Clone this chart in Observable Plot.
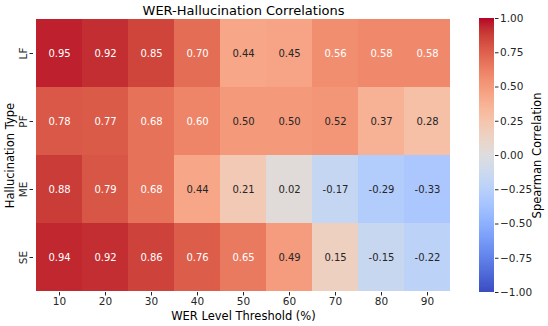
<!DOCTYPE html>
<html>
<head>
<meta charset="utf-8">
<script src="https://cdn.jsdelivr.net/npm/d3@7"></script>
<script src="https://cdn.jsdelivr.net/npm/@observablehq/plot@0.6"></script>
<style>
  html, body { margin: 0; padding: 0; background: #fff; }
  #wrap { position: relative; width: 548px; height: 326px; overflow: hidden; }
  #wrap svg { position: absolute; left: 0; top: 0; }
</style>
</head>
<body>
<div id="wrap"></div>
<script>
const rows = ["LF", "PF", "ME", "SE"];
const thresholds = [10, 20, 30, 40, 50, 60, 70, 80, 90];
const lf = [0.95, 0.92, 0.85, 0.70, 0.44, 0.45, 0.56, 0.58, 0.58];
const pf = [0.78, 0.77, 0.68, 0.60, 0.50, 0.50, 0.52, 0.37, 0.28];
const me = [0.88, 0.79, 0.68, 0.44, 0.21, 0.02, -0.17, -0.29, -0.33];
const se = [0.94, 0.92, 0.86, 0.76, 0.65, 0.49, 0.15, -0.15, -0.22];
const colorTicks = [-1, -0.75, -0.5, -0.25, 0, 0.25, 0.5, 0.75, 1];

const title = "WER-Hallucination Correlations";
const xLabel = "WER Level Threshold (%)";
const yLabel = "Hallucination Type";
const cLabel = "Spearman Correlation";

// matplotlib "coolwarm" (Moreland) colour stops
const coolwarmStops = [
  [59,76,192],[68,90,204],[77,104,215],[87,117,225],[98,130,234],[108,142,241],
  [119,154,247],[130,165,251],[141,176,254],[152,185,255],[163,194,255],[174,201,253],
  [184,208,249],[194,213,244],[204,217,238],[213,219,230],[221,221,221],[229,216,209],
  [236,211,197],[241,204,185],[245,196,173],[247,187,160],[247,177,148],[247,166,135],
  [244,154,123],[241,141,111],[236,127,99],[229,112,88],[222,96,77],[213,80,66],
  [203,62,56],[192,40,47],[180,4,38]
].map(([r,g,b]) => `rgb(${r},${g},${b})`);
const pw = d3.piecewise(d3.interpolateRgb, coolwarmStops);
const coolwarm = t => pw(Math.max(0, Math.min(1, t)));

const seriesByRow = {LF: lf, PF: pf, ME: me, SE: se};
const table = rows.flatMap(r => thresholds.map((t, i) => ({row: r, thr: t, v: seriesByRow[r][i]})));

function lum(c) {
  const col = d3.rgb(c);
  const f = x => { x /= 255; return x <= 0.03928 ? x / 12.92 : Math.pow((x + 0.055) / 1.055, 2.4); };
  return 0.2126 * f(col.r) + 0.7152 * f(col.g) + 0.0722 * f(col.b);
}
const textColor = d => lum(coolwarm((d.v + 1) / 2)) > 0.408 ? "#262626" : "#ffffff";

const colorOpt = {type: "linear", domain: [-1, 1], interpolate: coolwarm};
const font = {fontFamily: "DejaVu Sans", fontSize: "10.5px", color: "#262626", background: "transparent"};

const W = 548, H = 326;
const main = Plot.plot({
  width: W, height: H,
  marginLeft: 33, marginRight: 95, marginTop: 18, marginBottom: 34,
  style: font,
  x: {type: "band", domain: thresholds, padding: 0},
  y: {type: "band", domain: rows, padding: 0},
  color: colorOpt,
  marks: [
    Plot.cell(table, {x: "thr", y: "row", fill: "v", inset: 0}),
    Plot.text(table, {x: "thr", y: "row", text: d => d.v.toFixed(2), fill: textColor, fontSize: 10}),
    Plot.axisX({tickSize: 3.5, tickPadding: 2, label: null, fontSize: 10.5}),
    Plot.axisY({tickSize: 3.5, tickPadding: 3, tickRotate: -90, label: null, fontSize: 10.5}),
    Plot.text([title], {frameAnchor: "top", lineAnchor: "middle", textAnchor: "middle", dy: -8, fontSize: 13, fill: "#000"}),
    Plot.text([xLabel], {frameAnchor: "bottom", lineAnchor: "middle", textAnchor: "middle", dy: 24, fontSize: 11.5, fill: "#000"}),
    Plot.text([yLabel], {frameAnchor: "left", lineAnchor: "middle", textAnchor: "middle", dx: -23, rotate: -90, fontSize: 11.5, fill: "#000"})
  ]
});

const steps = d3.range(-1, 1, 0.005);
const bar = Plot.plot({
  width: W, height: H,
  marginLeft: 479, marginRight: 54, marginTop: 18, marginBottom: 34,
  style: font,
  x: {domain: [0, 1], axis: null},
  y: {domain: [-1, 1]},
  color: colorOpt,
  marks: [
    Plot.rect(steps, {x1: 0, x2: 1, y1: d => d, y2: d => Math.min(1, d + 0.0055), fill: d => d + 0.0025, shapeRendering: "crispEdges"}),
    Plot.axisY({anchor: "right", ticks: colorTicks, tickFormat: d3.format(".2f"), tickSize: 3.5, tickPadding: 2, label: null, fontSize: 10.5}),
    Plot.text([cLabel], {frameAnchor: "right", lineAnchor: "middle", textAnchor: "middle", dx: 43, rotate: -90, fontSize: 11.5, fill: "#000"})
  ]
});

const wrap = document.getElementById("wrap");
wrap.appendChild(main);
wrap.appendChild(bar);
</script>
</body>
</html>
